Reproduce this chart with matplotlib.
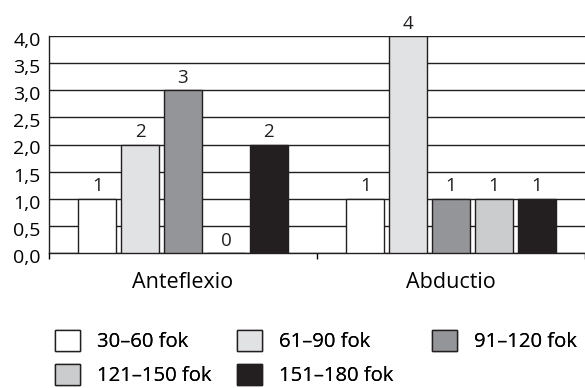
import matplotlib
matplotlib.use("Agg")
import matplotlib.pyplot as plt
import matplotlib.transforms as mtransforms
from matplotlib.patches import Patch
import numpy as np

plt.rcParams['font.family'] = ['Open Sans', 'DejaVu Sans']

categories = ['Anteflexio', 'Abductio']
series_names = ['30–60 fok', '61–90 fok', '91–120 fok', '121–150 fok', '151–180 fok']
values = [
    [1, 1],   # 30-60
    [2, 4],   # 61-90
    [3, 1],   # 91-120
    [0, 1],   # 121-150
    [2, 1],   # 151-180
]
colors = ['#ffffff', '#e1e2e4', '#939598', '#cbccce', '#231f20']
yticks = [0, 0.5, 1, 1.5, 2, 2.5, 3, 3.5, 4]
ytick_labels = ['0,0', '0,5', '1,0', '1,5', '2,0', '2,5', '3,0', '3,5', '4,0']

W, H = 585, 388
fig = plt.figure(figsize=(W / 100, H / 100), dpi=100)
ax = fig.add_axes([49 / W, 1 - 253 / H, 536 / W, 217 / H])

x = np.arange(len(categories))
slot = 0.16
width = slot * 0.88
for i, (name, vals, c) in enumerate(zip(series_names, values, colors)):
    pos = x + (i - 2) * slot
    ax.bar(pos, vals, width=width, color=c, edgecolor='#231f20', linewidth=1.0, zorder=3, label=name)
    for p, v in zip(pos, vals):
        ax.text(p, v + 0.06, str(v), ha='center', va='bottom', fontsize=13.5, color='#231f20')

ax.set_xlim(-0.5, 1.5)
ax.set_ylim(0, 4)
ax.set_yticks(yticks)
ax.set_yticklabels(ytick_labels, fontsize=14)
ax.set_xticks(x)
ax.set_xticklabels(categories, fontsize=15.5)
ax.set_xticks([-0.5, 0.5, 1.5], minor=True)
ax.tick_params(axis='x', which='major', length=0, pad=14)
ax.tick_params(axis='x', which='minor', length=4, width=1, direction='out')
ax.tick_params(axis='y', length=0, pad=6)
# tick labels sit a little below their gridlines in the original
shift = mtransforms.ScaledTranslation(0, -3 / 100, fig.dpi_scale_trans)
for lab in ax.get_yticklabels():
    lab.set_transform(lab.get_transform() + shift)
ax.grid(axis='y', color='#231f20', linewidth=1.0, zorder=0)
ax.set_axisbelow(True)
for s in ['top', 'right']:
    ax.spines[s].set_visible(False)
for s in ['left', 'bottom']:
    ax.spines[s].set_color('#231f20')
    ax.spines[s].set_linewidth(1.0)

handles = [Patch(facecolor=c, edgecolor='#231f20', linewidth=1.0) for c in colors]
columns = [[0, 3], [1, 4], [2]]
col_x = [55, 237, 432]
for cols, cx in zip(columns, col_x):
    leg = fig.legend([handles[k] for k in cols], [series_names[k] for k in cols],
                     loc='upper left', bbox_to_anchor=(cx / W, 1 - 330 / H), frameon=False,
                     fontsize=14.6, handlelength=1.22, handleheight=1.18, handletextpad=0.85,
                     labelspacing=0.6, borderpad=0, borderaxespad=0)
    fig.add_artist(leg)

fig.savefig('out.png', dpi=100)
